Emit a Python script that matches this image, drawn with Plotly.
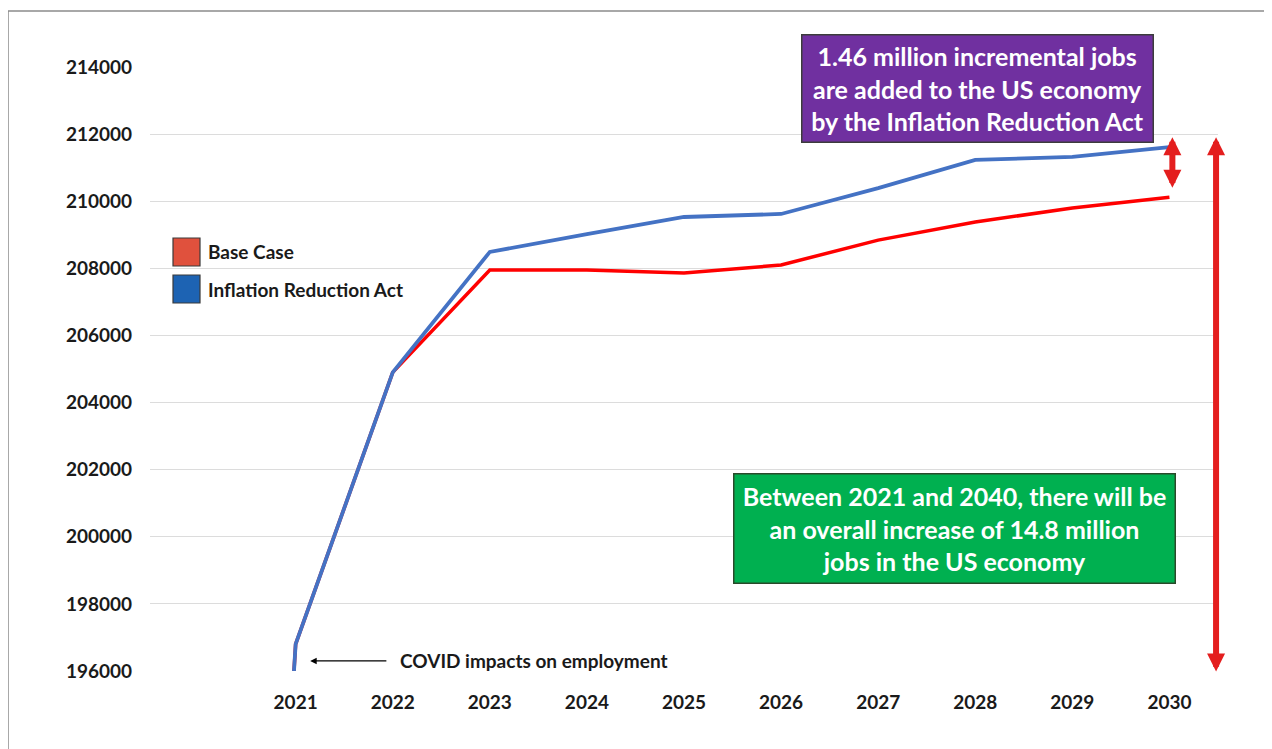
import plotly.graph_objects as go

# ---- data ----
years = [2020, 2021, 2022, 2023, 2024, 2025, 2026, 2027, 2028, 2029, 2030]
tick_years = [2021, 2022, 2023, 2024, 2025, 2026, 2027, 2028, 2029, 2030]
base_case = [150000, 196800, 204900, 207950, 207950, 207860, 208100, 208840, 209380, 209800, 210120]
ira = [150000, 196800, 204900, 208490, 209020, 209530, 209620, 210390, 211230, 211320, 211610]
y_ticks = [196000, 198000, 200000, 202000, 204000, 206000, 208000, 210000, 212000, 214000]

FONT = "Lato"
OFF = 8                       # page body margin
W, H = 1272 - OFF, 749 - OFF
PL, PR, PT, PB = 150, 1218, 67, 671   # plot area in screen pixels
L, R, T, B = PL - OFF, 1272 - PR, PT - OFF, 749 - PB

fig = go.Figure()
fig.add_trace(go.Scatter(x=years, y=base_case, mode="lines", name="Base Case",
                         line=dict(color="#FF0000", width=3.5), showlegend=False))
fig.add_trace(go.Scatter(x=years, y=ira, mode="lines", name="Inflation Reduction Act",
                         line=dict(color="#4472C4", width=3.8), showlegend=False))

def px_x(p):  # screen pixel -> paper x
    return (p - PL) / (PR - PL)

def px_y(p):  # screen pixel -> paper y
    return (PB - p) / (PB - PT)

shapes = []
annotations = []

# outer frame
shapes.append(dict(type="rect", xref="paper", yref="paper",
                   x0=px_x(8), x1=px_x(1290), y0=px_y(770), y1=px_y(11),
                   line=dict(color="#8c8c8c", width=1.5), fillcolor="rgba(0,0,0,0)", layer="below"))

# legend (custom squares)
leg = [("Base Case", "#E0513D", 238), ("Inflation Reduction Act", "#1D63B3", 275)]
for name, col, top in leg:
    shapes.append(dict(type="rect", xref="paper", yref="paper",
                       x0=px_x(173), x1=px_x(200), y0=px_y(top + 28), y1=px_y(top),
                       line=dict(color="#3a3a3a", width=1.2), fillcolor=col))
    annotations.append(dict(xref="paper", yref="paper", x=px_x(206), y=px_y(top + 14),
                            xanchor="left", yanchor="middle", showarrow=False, text=name,
                            font=dict(family=FONT, size=19, color="#1a1a1a", weight="bold")))

# purple box
annotations.append(dict(xref="paper", yref="paper", x=px_x(977.5), y=px_y(88.5),
                        xanchor="center", yanchor="middle", showarrow=False,
                        text="1.46 million incremental jobs<br>are added to the US economy<br>by the Inflation Reduction Act",
                        font=dict(family=FONT, size=25, color="white", weight="bold"),
                        bgcolor="#7030A0", bordercolor="#3c3c3c", borderwidth=1.5, borderpad=0,
                        width=350, height=106, align="center"))

# green box
annotations.append(dict(xref="paper", yref="paper", x=px_x(954), y=px_y(528),
                        xanchor="center", yanchor="middle", showarrow=False,
                        text="Between 2021 and 2040, there will be<br>an overall increase of 14.8 million<br>jobs in the US economy",
                        font=dict(family=FONT, size=25, color="white", weight="bold"),
                        bgcolor="#00B050", bordercolor="#2a4a2a", borderwidth=1.5, borderpad=0,
                        width=440, height=108, align="center"))

# red double arrows
annotations.append(dict(x=2030.03, y=211910, ax=2030.03, ay=210360, xref="x", yref="y",
                        axref="x", ayref="y", text="", showarrow=True, arrowside="end+start",
                        arrowhead=2, arrowsize=0.6, arrowwidth=6, arrowcolor="#E41E1E",
                        standoff=0, startstandoff=0))
annotations.append(dict(x=2030.48, y=211910, ax=2030.48, ay=195940, xref="x", yref="y",
                        axref="x", ayref="y", text="", showarrow=True, arrowside="end+start",
                        arrowhead=2, arrowsize=0.6, arrowwidth=6, arrowcolor="#E41E1E",
                        standoff=0, startstandoff=0))

# COVID arrow and label
annotations.append(dict(x=2021.15, y=196300, ax=2021.95, ay=196300, xref="x", yref="y",
                        axref="x", ayref="y", text="", showarrow=True, arrowhead=2,
                        arrowsize=1, arrowwidth=1.3, arrowcolor="black", standoff=0))
annotations.append(dict(x=2022.05, y=196300, xref="x", yref="y", xanchor="left", yanchor="middle",
                        showarrow=False, text="COVID impacts on employment",
                        font=dict(family=FONT, size=19, color="#1a1a1a", weight="bold")))

fig.update_layout(
    width=W, height=H,
    margin=dict(l=L, r=R, t=T, b=B, pad=0),
    paper_bgcolor="white", plot_bgcolor="white",
    showlegend=False,
    xaxis=dict(range=[2019.5, 2030.5], tickvals=tick_years, ticktext=[str(t) for t in tick_years],
               showgrid=False, zeroline=False, showline=False, ticks="",
               tickfont=dict(family=FONT, size=19, color="#1a1a1a", weight="bold"),
               ticklabelstandoff=18),
    yaxis=dict(range=[196000, 214000], tickvals=y_ticks, ticktext=[str(t) for t in y_ticks],
               showgrid=True, gridcolor="#dcdcdc", gridwidth=1.2, zeroline=False, showline=False,
               ticks="", tickfont=dict(family=FONT, size=19, color="#1a1a1a", weight="bold"),
               ticklabelstandoff=17),
    shapes=shapes,
    annotations=annotations,
)

fig.write_html("out.html")
